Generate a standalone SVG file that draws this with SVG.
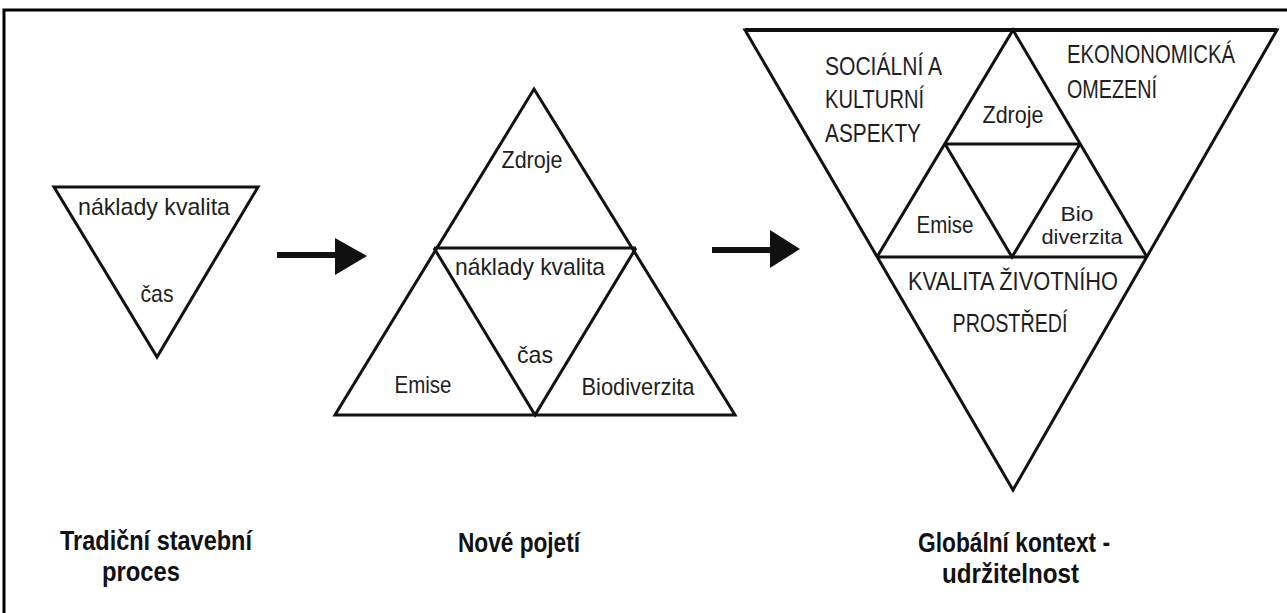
<svg xmlns="http://www.w3.org/2000/svg" width="1287" height="613" viewBox="0 0 1287 613">
<defs>
<style>
.ln{fill:none;stroke:#111;stroke-width:3;stroke-linejoin:miter}
.t{font-family:"Liberation Sans",Arial,sans-serif;font-size:24px;fill:#1e1e1e;text-anchor:middle}
.s{font-family:"Liberation Sans",Arial,sans-serif;font-size:21px;fill:#1e1e1e;text-anchor:middle}
.c{font-family:"Liberation Sans",Arial,sans-serif;font-size:25px;fill:#1e1e1e}
.cap{font-family:"Liberation Sans",Arial,sans-serif;font-size:28px;font-weight:bold;fill:#111}
.ar{fill:#111;stroke:none}
</style>
</defs>
<rect width="1287" height="613" fill="#fff"/>
<path d="M4,613 V10 H1287" fill="none" stroke="#000" stroke-width="3"/>

<g id="traditional">
<polygon class="ln" points="54,187 258,187 157,357"/>
<text class="t" x="154" y="215" textLength="152" lengthAdjust="spacingAndGlyphs">náklady  kvalita</text>
<text class="t" x="157" y="302" textLength="33" lengthAdjust="spacingAndGlyphs">čas</text>
</g>

<g id="new-concept">
<polygon class="ln" points="534,89 735,415 335,415"/>
<polyline class="ln" points="434,248 636,248"/>
<polyline class="ln" points="434,248 535,415 636,248"/>
<text class="t" x="532" y="168" textLength="61" lengthAdjust="spacingAndGlyphs">Zdroje</text>
<text class="t" x="530" y="275" textLength="150" lengthAdjust="spacingAndGlyphs">náklady  kvalita</text>
<text class="t" x="535" y="363" textLength="36" lengthAdjust="spacingAndGlyphs">čas</text>
<text class="t" x="423" y="393" textLength="57" lengthAdjust="spacingAndGlyphs">Emise</text>
<text class="t" x="638" y="395" textLength="113" lengthAdjust="spacingAndGlyphs">Biodiverzita</text>
</g>

<g id="global-context">
<polygon class="ln" points="745,30 1277,30 1013,490"/>
<line x1="745" y1="30" x2="1277" y2="30" stroke="#111" stroke-width="4"/>
<polyline class="ln" points="877,257 1013,30 1147,257"/>
<line class="ln" x1="877" y1="257" x2="1147" y2="257"/>
<polyline class="ln" points="945,144 1080,144"/>
<polyline class="ln" points="945,144 1012,257 1080,144"/>
<text class="c" x="825" y="75" textLength="117" lengthAdjust="spacingAndGlyphs">SOCIÁLNÍ A</text>
<text class="c" x="825" y="108" textLength="99" lengthAdjust="spacingAndGlyphs">KULTURNÍ</text>
<text class="c" x="825" y="142" textLength="96" lengthAdjust="spacingAndGlyphs">ASPEKTY</text>
<text class="c" x="1067" y="63" textLength="168" lengthAdjust="spacingAndGlyphs">EKONONOMICKÁ</text>
<text class="c" x="1067" y="98" textLength="90" lengthAdjust="spacingAndGlyphs">OMEZENÍ</text>
<text class="t" x="1013" y="123" textLength="61" lengthAdjust="spacingAndGlyphs">Zdroje</text>
<text class="t" x="945" y="233" textLength="57" lengthAdjust="spacingAndGlyphs">Emise</text>
<text class="s" x="1077" y="221" textLength="33" lengthAdjust="spacingAndGlyphs">Bio</text>
<text class="s" x="1082" y="244" textLength="81" lengthAdjust="spacingAndGlyphs">diverzita</text>
<text class="c" x="1013" y="290" text-anchor="middle" textLength="210" lengthAdjust="spacingAndGlyphs">KVALITA ŽIVOTNÍHO</text>
<text class="c" x="1010" y="332" text-anchor="middle" textLength="115" lengthAdjust="spacingAndGlyphs">PROSTŘEDÍ</text>
</g>

<g id="connectors">
<rect class="ar" x="277" y="252" width="60" height="6"/>
<polygon class="ar" points="335,238 367,256 335,275"/>
<rect class="ar" x="712" y="247" width="60" height="6"/>
<polygon class="ar" points="770,230 800,249 770,268"/>
</g>

<g id="captions">
<text class="cap" x="60" y="550" textLength="192" lengthAdjust="spacingAndGlyphs">Tradiční stavební</text>
<text class="cap" x="102" y="581" textLength="78" lengthAdjust="spacingAndGlyphs">proces</text>
<text class="cap" x="458" y="552" textLength="122" lengthAdjust="spacingAndGlyphs">Nové pojetí</text>
<text class="cap" x="918" y="552" textLength="192" lengthAdjust="spacingAndGlyphs">Globální kontext -</text>
<text class="cap" x="942" y="583" textLength="137" lengthAdjust="spacingAndGlyphs">udržitelnost</text>
</g>
</svg>
